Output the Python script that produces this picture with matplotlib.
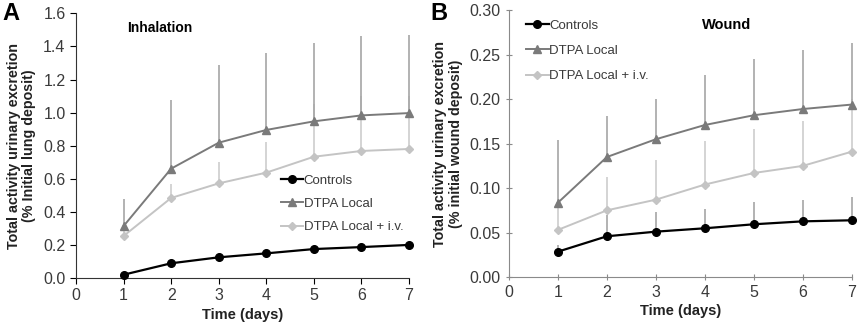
import matplotlib.pyplot as plt
import numpy as np

plt.rcParams['font.family'] = ['Liberation Sans', 'DejaVu Sans']

days = [1, 2, 3, 4, 5, 6, 7]

# Panel A - inhalation (% initial lung deposit)
inh_controls = [0.02, 0.089, 0.125, 0.149, 0.175, 0.187, 0.200]
inh_local = [0.314, 0.661, 0.818, 0.895, 0.947, 0.983, 0.997]
inh_local_top = [0.48, 1.076, 1.29, 1.358, 1.419, 1.463, 1.471]
inh_iv = [0.254, 0.484, 0.572, 0.637, 0.733, 0.768, 0.780]
inh_iv_top = [0.30, 0.568, 0.70, 0.822, 1.05, 1.10, 1.10]

# Panel B - wound (% initial wound deposit)
wnd_controls = [0.0285, 0.0458, 0.051, 0.0548, 0.0593, 0.0626, 0.0638]
wnd_controls_top = [0.0356, 0.070, 0.073, 0.0765, 0.084, 0.087, 0.090]
wnd_local = [0.0836, 0.135, 0.155, 0.171, 0.182, 0.189, 0.194]
wnd_local_top = [0.154, 0.181, 0.200, 0.227, 0.245, 0.255, 0.263]
wnd_iv = [0.053, 0.075, 0.087, 0.104, 0.117, 0.125, 0.141]
wnd_iv_top = [0.08, 0.113, 0.132, 0.153, 0.167, 0.176, 0.20]

C_CTRL = '#000000'
C_LOCAL = '#7a7a7a'
C_LOCAL_ERR = '#a6a6a6'
C_IV = '#c4c4c4'
C_IV_ERR = '#cdcdcd'
C_TXT = '#3a3a3a'


def draw(ax, ctrl, ctrl_top, local, local_top, iv, iv_top):
    if iv_top is not None:
        ax.vlines(days, iv, iv_top, color=C_IV_ERR, lw=1.2, zorder=1, clip_on=False)
    if local_top is not None:
        ax.vlines(days, local, local_top, color=C_LOCAL_ERR, lw=1.2, zorder=1, clip_on=False)
    if ctrl_top is not None:
        ax.vlines(days, ctrl, ctrl_top, color=C_LOCAL_ERR, lw=1.2, zorder=1, clip_on=False)
    ax.plot(days, ctrl, color=C_CTRL, marker='o', ms=5.5, lw=1.6, label='Controls',
            zorder=4, clip_on=False)
    ax.plot(days, local, color=C_LOCAL, marker='^', ms=6, lw=1.4, label='DTPA Local',
            zorder=3, clip_on=False)
    ax.plot(days, iv, color=C_IV, marker='D', ms=4, lw=1.4, label='DTPA Local + i.v.',
            zorder=2, clip_on=False)
    ax.set_xlim(0, 7)
    ax.set_xticks(range(0, 8))
    for s in ('top', 'right'):
        ax.spines[s].set_visible(False)
    ax.tick_params(labelsize=11.5, labelcolor=C_TXT, length=4)
    ax.set_xlabel('Time (days)', fontsize=10.5, fontweight='bold', color='#222222', labelpad=3)


def legend(ax, anchor, spacing):
    ax.legend(loc='upper left', bbox_to_anchor=anchor, frameon=False, fontsize=9.5,
              handlelength=1.7, handletextpad=0.05, labelspacing=spacing, labelcolor=C_TXT,
              borderaxespad=0, borderpad=0)


fig = plt.figure(figsize=(8.58, 3.22), dpi=100)

axA = fig.add_axes([0.0886, 0.1366, 0.388, 0.822])
draw(axA, inh_controls, None, inh_local, inh_local_top, inh_iv, inh_iv_top)
axA.set_ylim(0, 1.6)
axA.set_yticks(np.arange(0, 1.61, 0.2))
axA.yaxis.set_major_formatter(plt.FormatStrFormatter('%.1f'))
axA.set_ylabel('Total activity urinary excretion\n(% Initial lung deposit)',
               fontsize=10.3, fontweight='bold', color='#222222', labelpad=5, linespacing=1.1)
for s in ('left', 'bottom'):
    axA.spines[s].set_color('#333333')
axA.text(0.153, 0.93, 'Inhalation', transform=axA.transAxes, fontsize=10, fontweight='bold')
legend(axA, (0.615, 0.39), 0.82)
fig.text(0.003, 0.995, 'A', fontsize=17, fontweight='bold', va='top')

axB = fig.add_axes([0.5932, 0.1398, 0.3995, 0.828])
draw(axB, wnd_controls, wnd_controls_top, wnd_local, wnd_local_top, wnd_iv, wnd_iv_top)
axB.set_ylim(0, 0.30)
axB.set_yticks(np.arange(0, 0.301, 0.05))
axB.yaxis.set_major_formatter(plt.FormatStrFormatter('%.2f'))
axB.set_ylabel('Total activity urinary excretion\n(% initial wound deposit)',
               fontsize=10.3, fontweight='bold', color='#222222', labelpad=5, linespacing=1.1)
for s in ('left', 'bottom'):
    axB.spines[s].set_color('#8a8a8a')
axB.tick_params(direction='inout', length=5, color='#8a8a8a')
axB.text(0.562, 0.93, 'Wound', transform=axB.transAxes, fontsize=10.5, fontweight='bold')
legend(axB, (0.05, 0.965), 0.98)
fig.text(0.502, 0.995, 'B', fontsize=17, fontweight='bold', va='top')

fig.savefig('out.png', dpi=100)
